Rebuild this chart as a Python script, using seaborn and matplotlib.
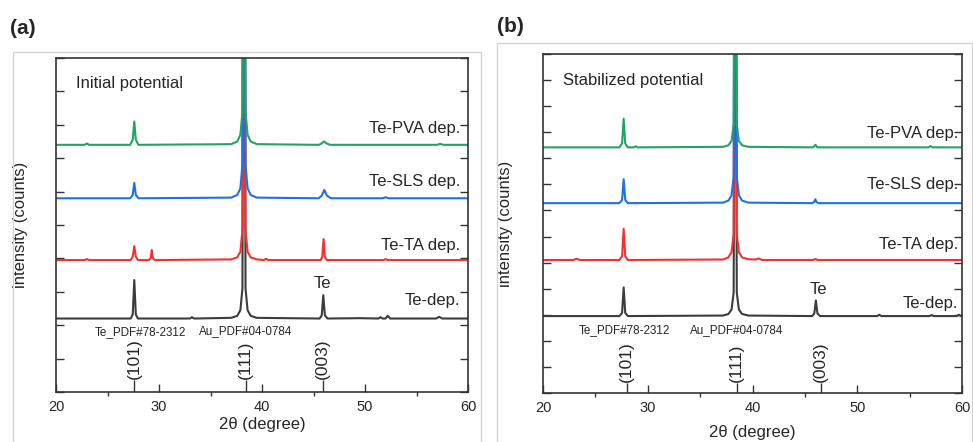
import matplotlib
matplotlib.use("Agg")
import matplotlib.pyplot as plt
import seaborn as sns
import pandas as pd
from matplotlib.ticker import MultipleLocator
from matplotlib.patches import Rectangle

sns.set_style("ticks")
plt.rcParams["font.family"] = ["Liberation Sans", "DejaVu Sans"]

SERIES = ["Te-dep.", "Te-TA dep.", "Te-SLS dep.", "Te-PVA dep."]
COLORS = ["#3c3c3c", "#f5312f", "#1f6fe5", "#22a464"]

# ---- panel (a): initial potential (2theta, intensity above baseline) ----
a_dep_x = [20, 27.25, 27.45, 27.6, 27.75, 27.95, 33.0, 33.2, 33.4, 37.0, 37.6, 37.9, 38.1, 38.25, 38.4,
           38.6, 38.9, 39.5, 45.6, 45.8, 45.95, 46.1, 46.35, 49.5, 51.3, 51.5, 51.7, 52.0, 52.2, 52.45,
           56.9, 57.2, 57.5, 60]
a_dep_y = [0, 0, 0.12, 1.15, 0.12, 0, 0, 0.04, 0, 0.02, 0.08, 0.25, 0.9, 20, 0.9,
           0.25, 0.08, 0.02, 0, 0.1, 0.7, 0.1, 0, 0.01, 0, 0.04, 0, 0, 0.08, 0,
           0, 0.05, 0, 0]
a_ta_x = [20, 22.8, 23.0, 23.2, 27.25, 27.45, 27.6, 27.75, 27.95, 29.0, 29.2, 29.3, 29.4, 29.6,
          37.0, 37.6, 37.9, 38.1, 38.25, 38.4, 38.6, 38.9, 39.5, 40.2, 40.4, 40.6,
          45.7, 45.85, 45.98, 46.1, 46.3, 51.8, 52.0, 52.2, 60]
a_ta_y = [0, 0, 0.03, 0, 0, 0.1, 0.42, 0.1, 0, 0, 0.06, 0.3, 0.06, 0,
          0.02, 0.08, 0.25, 0.9, 20, 0.9, 0.25, 0.08, 0.02, 0, 0.04, 0,
          0, 0.1, 0.63, 0.1, 0, 0, 0.03, 0, 0]
a_sls_x = [20, 27.2, 27.45, 27.6, 27.75, 28.0, 37.0, 37.6, 37.9, 38.1, 38.25, 38.4, 38.6, 38.9, 39.5,
           45.5, 45.8, 46.05, 46.3, 46.7, 51.7, 52.0, 52.3, 60]
a_sls_y = [0, 0, 0.1, 0.46, 0.1, 0, 0.02, 0.1, 0.3, 1.0, 20, 1.0, 0.3, 0.1, 0.02,
           0, 0.08, 0.25, 0.08, 0, 0, 0.03, 0, 0]
a_pva_x = [20, 22.8, 23.0, 23.2, 27.2, 27.45, 27.6, 27.75, 28.0, 37.0, 37.6, 37.9, 38.1, 38.25, 38.4,
           38.6, 38.9, 39.5, 45.5, 45.8, 46.0, 46.3, 46.6, 57.0, 57.3, 57.6, 60]
a_pva_y = [0, 0, 0.04, 0, 0, 0.15, 0.7, 0.15, 0, 0.02, 0.1, 0.3, 1.0, 20, 1.0,
           0.3, 0.1, 0.02, 0, 0.04, 0.1, 0.04, 0, 0, 0.03, 0, 0]
a_offsets = [2.2, 3.95, 5.8, 7.4]
a_ref_pos = [27.6, 38.4, 45.9]

# ---- panel (b): stabilized potential ----
b_dep_x = [20, 27.3, 27.55, 27.7, 27.85, 28.1, 37.2, 37.7, 38.0, 38.2, 38.35, 38.5, 38.7, 39.0, 39.6,
           45.7, 45.9, 46.05, 46.2, 46.45, 51.9, 52.1, 52.3, 56.9, 57.1, 57.3, 59.5, 59.7, 59.9, 60]
b_dep_y = [0, 0, 0.12, 1.1, 0.12, 0, 0.02, 0.08, 0.25, 0.9, 20, 0.9, 0.25, 0.08, 0.02,
           0, 0.1, 0.6, 0.1, 0, 0, 0.05, 0, 0, 0.04, 0, 0, 0.05, 0, 0]
b_ta_x = [20, 22.9, 23.2, 23.5, 27.3, 27.55, 27.7, 27.85, 28.1, 37.2, 37.7, 38.0, 38.2, 38.35, 38.5,
          38.7, 39.0, 39.6, 40.3, 40.6, 40.9, 45.8, 46.0, 46.2, 60]
b_ta_y = [0, 0, 0.05, 0, 0, 0.15, 1.2, 0.15, 0, 0.02, 0.1, 0.3, 1.0, 20, 1.0,
          0.3, 0.1, 0.03, 0.02, 0.06, 0, 0, 0.04, 0, 0]
b_sls_x = [20, 27.3, 27.55, 27.7, 27.85, 28.1, 37.2, 37.7, 38.0, 38.2, 38.35, 38.5, 38.7, 39.0, 39.6,
           45.7, 45.9, 46.0, 46.1, 46.3, 60]
b_sls_y = [0, 0, 0.12, 0.92, 0.12, 0, 0.02, 0.1, 0.3, 1.0, 20, 1.0, 0.3, 0.1, 0.02,
           0, 0.05, 0.15, 0.05, 0, 0]
b_pva_x = [20, 27.3, 27.55, 27.7, 27.85, 28.1, 28.7, 28.85, 29.0, 37.2, 37.7, 38.0, 38.2, 38.35, 38.5,
           38.7, 39.0, 39.6, 45.8, 46.0, 46.2, 56.8, 57.0, 57.2, 60]
b_pva_y = [0, 0, 0.15, 1.1, 0.15, 0, 0, 0.04, 0, 0.02, 0.08, 0.25, 0.9, 20, 0.9,
           0.25, 0.08, 0.02, 0, 0.1, 0, 0, 0.05, 0, 0]
b_offsets = [2.95, 5.1, 7.28, 9.42]
b_ref_pos = [28.0, 38.5, 46.5]

REF_LABELS = ["(101)", "(111)", "(003)"]


def draw_panel(ax, xs, ys, offsets, ref_pos, ymax, cfg):
    for name, x, y, off, col in zip(SERIES, xs, ys, offsets, COLORS):
        df = pd.DataFrame({"two_theta": x, "intensity": [v + off for v in y]})
        sns.lineplot(data=df, x="two_theta", y="intensity", color=col, lw=1.5,
                     estimator=None, sort=False, ax=ax)
        ax.text(cfg["lab_x"], off + cfg["lab_dy"][name], name, ha="right", va="center", fontsize=12)

    ax.vlines(ref_pos, 0, cfg["stick_h"], color="#333333", lw=1)
    for p, lab in zip(ref_pos, REF_LABELS):
        ax.text(p, cfg["stick_h"] + 0.03, lab, rotation=90, ha="center", va="bottom", fontsize=12.5)
    ax.text(cfg["te_pdf"][0], cfg["te_pdf"][1], "Te_PDF#78-2312", ha="center", va="center", fontsize=8.4)
    ax.text(cfg["au_pdf"][0], cfg["au_pdf"][1], "Au_PDF#04-0784", ha="center", va="center", fontsize=8.4)
    ax.text(cfg["te"][0], cfg["te"][1], "Te", ha="center", va="center", fontsize=12)
    ax.text(21.9, cfg["title_y"], cfg["title"], ha="left", va="center", fontsize=12)

    ax.set_xlim(20, 60)
    ax.set_ylim(0, ymax)
    ax.xaxis.set_major_locator(MultipleLocator(10))
    ax.xaxis.set_minor_locator(MultipleLocator(5))
    ax.yaxis.set_major_locator(MultipleLocator(1))
    ax.tick_params(which="major", direction="in", top=False, right=True, labelleft=False,
                   length=6, width=1, color="#333333", labelsize=10.5, pad=6)
    ax.tick_params(axis="x", which="minor", direction="out", top=False, length=3, width=1,
                   color="#333333")
    for s in ax.spines.values():
        s.set_visible(True)
        s.set_color("#333333")
        s.set_linewidth(1.2)
    ax.set_xlabel("2θ (degree)", fontsize=12)
    ax.set_ylabel("intensity (counts)", fontsize=12)
    ax.xaxis.set_label_coords(0.5, cfg["xlab_y"])
    ax.yaxis.set_label_coords(cfg["ylab_x"], 0.5)


fig = plt.figure(figsize=(9.73, 4.42), dpi=100)
fig.patches.append(Rectangle((13 / 973, -0.01), 468 / 973, 0.892, transform=fig.transFigure,
                             fill=False, edgecolor="#d4d4d4", lw=1))
fig.patches.append(Rectangle((497 / 973, -0.01), 475 / 973, 0.913, transform=fig.transFigure,
                             fill=False, edgecolor="#d4d4d4", lw=1))

ax_a = fig.add_axes([56 / 973, 50 / 442, 412 / 973, 334 / 442])
ax_b = fig.add_axes([543 / 973, 49 / 442, 419 / 973, 339 / 442])

draw_panel(ax_a,
           [a_dep_x, a_ta_x, a_sls_x, a_pva_x],
           [a_dep_y, a_ta_y, a_sls_y, a_pva_y],
           a_offsets, a_ref_pos, 10,
           dict(lab_x=59.2, lab_dy={"Te-dep.": 0.55, "Te-TA dep.": 0.45, "Te-SLS dep.": 0.5, "Te-PVA dep.": 0.5},
                stick_h=0.36, te_pdf=(28.15, 1.8), au_pdf=(38.4, 1.83), te=(45.9, 3.26),
                title="Initial potential", title_y=9.25, xlab_y=-0.075, ylab_x=-0.068))
draw_panel(ax_b,
           [b_dep_x, b_ta_x, b_sls_x, b_pva_x],
           [b_dep_y, b_ta_y, b_sls_y, b_pva_y],
           b_offsets, b_ref_pos, 13,
           dict(lab_x=59.6, lab_dy={"Te-dep.": 0.5, "Te-TA dep.": 0.6, "Te-SLS dep.": 0.72, "Te-PVA dep.": 0.53},
                stick_h=0.38, te_pdf=(27.8, 2.4), au_pdf=(38.5, 2.4), te=(46.25, 3.95),
                title="Stabilized potential", title_y=12.0, xlab_y=-0.094, ylab_x=-0.072))

fig.text(10 / 973, 1 - 28 / 442, "(a)", fontsize=15, fontweight="bold", ha="left", va="center")
fig.text(497 / 973, 1 - 27 / 442, "(b)", fontsize=15, fontweight="bold", ha="left", va="center")

fig.savefig("out.png", dpi=100)
